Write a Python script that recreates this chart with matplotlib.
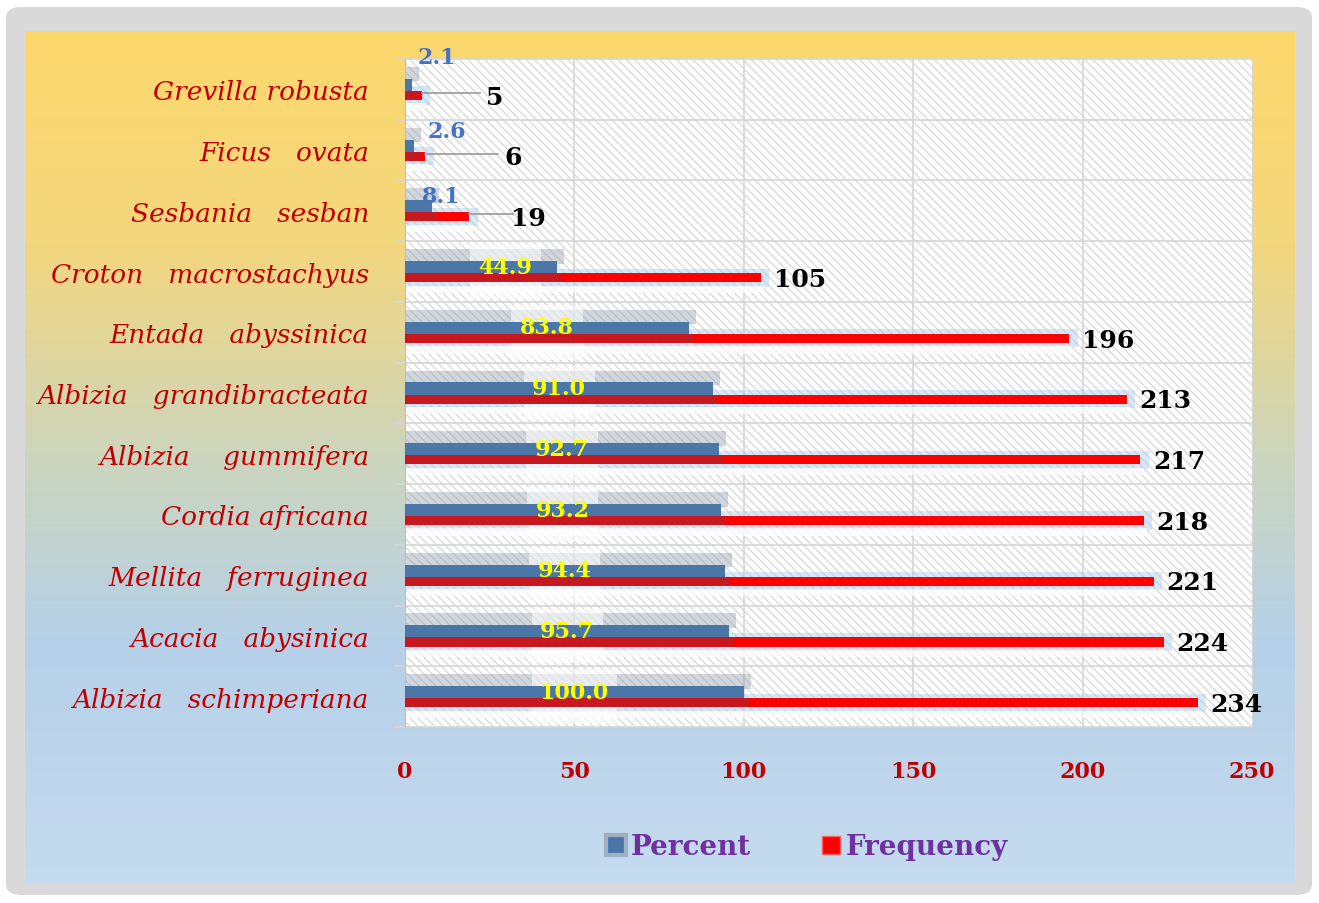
import numpy as np
import matplotlib
matplotlib.use("Agg")
import matplotlib.pyplot as plt
from matplotlib.patches import Rectangle, FancyBboxPatch
from matplotlib.lines import Line2D
from matplotlib.colors import LinearSegmentedColormap

# ---------------- data ----------------
categories = ['Grevilla robusta', 'Ficus   ovata', 'Sesbania   sesban',
              'Croton   macrostachyus', 'Entada   abyssinica',
              'Albizia   grandibracteata', 'Albizia    gummifera',
              'Cordia africana', 'Mellita   ferruginea',
              'Acacia   abysinica', 'Albizia   schimperiana']
frequency = [5, 6, 19, 105, 196, 213, 217, 218, 221, 224, 234]
percent = [2.1, 2.6, 8.1, 44.9, 83.8, 91.0, 92.7, 93.2, 94.4, 95.7, 100.0]
xticks = [0, 50, 100, 150, 200, 250]

W, H = 1319, 904
plt.rcParams['hatch.linewidth'] = 0.8
fig = plt.figure(figsize=(W / 100, H / 100), dpi=100)
fig.patch.set_facecolor('white')

# outer grey frame
frame = FancyBboxPatch((6 / W, 8 / H), 1306 / W, 888 / H,
                       boxstyle="round,pad=0,rounding_size=0.012",
                       transform=fig.transFigure, facecolor='#d9d9d9',
                       edgecolor='none', zorder=-10)
fig.patches.append(frame)

# gradient background
bg = fig.add_axes([25 / W, 1 - 885 / H, 1270 / W, 853 / H], zorder=-5)
cmap = LinearSegmentedColormap.from_list('g', [
    (0.0, '#fdd76c'), (0.25, '#f3d77e'), (0.5, '#ccd5bd'),
    (0.72, '#b5d0e8'), (1.0, '#c5dbef')])
grad = np.linspace(0, 1, 256).reshape(-1, 1)
bg.imshow(grad, aspect='auto', cmap=cmap, extent=[0, 1, 1, 0])
bg.set_axis_off()

# main axes
ax = fig.add_axes([405 / W, 1 - 728 / H, (1252 - 405) / W, (728 - 60) / H])
ax.set_facecolor('none')
n = len(categories)
y = np.arange(n)
ax.set_xlim(0, 250)
ax.set_ylim(n - 0.5, -0.5)

# hatched plot area
ax.add_patch(Rectangle((0, -0.5), 250, n, facecolor='white',
                       edgecolor='#d4d4d4', hatch='\\\\\\\\', lw=0, zorder=0))

# grid lines
ax.hlines(np.arange(n + 1) - 0.5, -3, 250, color='#d6d6d6', lw=1.2,
          zorder=1, clip_on=False)
ax.vlines(xticks[1:-1], -0.5, n - 0.5, color='#d6d6d6', lw=1.2, zorder=1)

blue = '#4a77a8'
red = '#ff0000'
dark_red = '#c8181f'

# glow / shadows
ax.barh(y - 0.25, [p + 2 for p in percent], height=0.24, left=0,
        color='#8c9aa8', alpha=0.4, zorder=2, lw=0)
ax.barh(y + 0.1, [f + 2.5 for f in frequency], height=0.3, left=0,
        color='#a9cbeb', alpha=0.45, zorder=2, lw=0)
ax.barh(y + 0.29, [f + 1 for f in frequency], height=0.12, left=0,
        color='white', alpha=0.7, zorder=2, lw=0)

# label glow boxes (behind bars)
for i, p in enumerate(percent):
    if p >= 20:
        cx = p / 2 if p >= 80 else p * 0.66
        wdt = 25 if p >= 100 else 21
        ax.add_patch(Rectangle((cx - wdt / 2, i - 0.45), wdt, 0.9,
                               facecolor='white', alpha=0.55, lw=0,
                               zorder=2.5))

# bars
ax.barh(y - 0.074, percent, height=0.2, color=blue, zorder=3, lw=0)
ax.barh(y + 0.1, frequency, height=0.15, color=red, zorder=4, lw=0)
ax.barh(y + 0.1, [min(p + 1.5, f) for p, f in zip(percent, frequency)],
        height=0.15, color=dark_red, zorder=4.5, lw=0)

num_font = dict(family='DejaVu Serif', weight='bold')

# percent labels
for i, p in enumerate(percent):
    if p >= 20:
        cx = p / 2 if p >= 80 else p * 0.66
        ax.text(cx, i - 0.08, f'{p:.1f}', ha='center', va='center',
                color='#ffff00', fontsize=16, zorder=6, **num_font)
small_off = {0: (7.3, -0.53), 1: (9.8, -0.31), 2: (2.5, -0.24)}
for i, (dx, dy) in small_off.items():
    ax.text(percent[i] + dx, i + dy, f'{percent[i]:.1f}', ha='center',
            va='center', color='#4472c4', fontsize=16, zorder=6, **num_font)

# frequency labels
lead_off = {0: 21.6, 1: 25.9, 2: 17.3}
for i, f in enumerate(frequency):
    if i in lead_off:
        lx = f + lead_off[i]
        ax.plot([f, lx - 4.5], [i + 0.06, i + 0.06], color='#9a9a9a',
                lw=1.2, zorder=5)
    else:
        lx = f + 11.5
    ax.text(lx, i + 0.12, str(f), ha='center', va='center', color='black',
            fontsize=18, zorder=6, **num_font)

# axes styling
for s in ['top', 'bottom']:
    ax.spines[s].set_visible(False)
ax.spines['left'].set_color('#bfbfbf')
ax.spines['right'].set_color('#d6d6d6')
ax.set_yticks(y)
ax.set_yticklabels(categories, fontsize=19, style='italic',
                   color='#c00000', family='DejaVu Serif')
ax.tick_params(axis='y', length=0, pad=26)
ax.set_xticks(xticks)
ax.set_xticklabels([str(t) for t in xticks], color='#c00000', fontsize=16,
                   **num_font)
ax.tick_params(axis='x', length=0, pad=24)

# legend
handles = [Line2D([], [], marker='s', ls='none', markersize=14,
                  markerfacecolor=blue, markeredgecolor='#9fb0c2',
                  markeredgewidth=3),
           Line2D([], [], marker='s', ls='none', markersize=13,
                  markerfacecolor=red, markeredgecolor='#ff6060',
                  markeredgewidth=1)]
leg = fig.legend(handles, ['Percent', 'Frequency'], loc='center',
                 bbox_to_anchor=(805 / W, 1 - 848 / H), ncol=2,
                 frameon=False, columnspacing=2.35, handletextpad=0.05,
                 handlelength=1.0,
                 prop=dict(family='DejaVu Serif', weight='bold', size=20))
for t in leg.get_texts():
    t.set_color('#7030a0')

fig.savefig('out.png', dpi=100)
